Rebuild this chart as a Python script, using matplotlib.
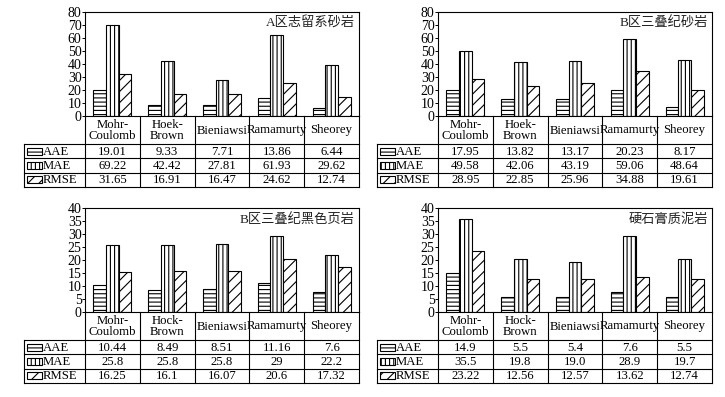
import numpy as np
import matplotlib.pyplot as plt
from matplotlib.patches import Rectangle

plt.rcParams['font.family'] = ['Liberation Serif', 'Noto Sans CJK SC']
plt.rcParams['hatch.linewidth'] = 0.8

methods_top = ['Mohr-\nCoulomb', 'Hoek-\nBrown', 'Bieniawsi', 'Ramamurty', 'Sheorey']
methods_bottom = ['Mohr-\nCoulomb', 'Hock-\nBrown', 'Bieniawsi', 'Ramamurty', 'Sheorey']
metrics = ['AAE', 'MAE', 'RMSE']
hatches = ['----', '||||', '///']

titles = ['A区志留系砂岩', 'B区三叠纪砂岩', 'B区三叠纪黑色页岩', '硬石膏质泥岩']

# bar heights as drawn
a_aae = [20.2, 8.7, 8.7, 13.6, 6.4]
a_mae = [70.2, 42.5, 27.4, 62.5, 39.4]
a_rmse = [32.0, 17.2, 17.2, 25.3, 14.9]

b_aae = [20.2, 13.3, 12.8, 19.7, 7.2]
b_mae = [50.2, 41.8, 42.5, 59.2, 43.3]
b_rmse = [28.7, 23.3, 25.6, 34.9, 19.7]

c_aae = [10.5, 8.5, 8.8, 11.2, 7.7]
c_mae = [25.8, 25.8, 26.2, 29.2, 21.9]
c_rmse = [15.4, 15.8, 15.8, 20.4, 17.3]

d_aae = [15.0, 5.8, 5.8, 7.7, 5.8]
d_mae = [35.8, 20.4, 19.2, 29.2, 20.4]
d_rmse = [23.5, 12.7, 12.7, 13.5, 12.7]

# table texts
a_table = [['19.01', '9.33', '7.71', '13.86', '6.44'],
           ['69.22', '42.42', '27.81', '61.93', '29.62'],
           ['31.65', '16.91', '16.47', '24.62', '12.74']]
b_table = [['17.95', '13.82', '13.17', '20.23', '8.17'],
           ['49.58', '42.06', '43.19', '59.06', '48.64'],
           ['28.95', '22.85', '25.96', '34.88', '19.61']]
c_table = [['10.44', '8.49', '8.51', '11.16', '7.6'],
           ['25.8', '25.8', '25.8', '29', '22.2'],
           ['16.25', '16.1', '16.07', '20.6', '17.32']]
d_table = [['14.9', '5.5', '5.4', '7.6', '5.5'],
           ['35.5', '19.8', '19.0', '28.9', '19.7'],
           ['23.22', '12.56', '12.57', '13.62', '12.74']]

W, H = 725, 397
fig = plt.figure(figsize=(W / 100, H / 100), dpi=100)
FS = 9.2


def px_rect(left, top, width, height):
    return [left / W, 1 - (top + height) / H, width / W, height / H]


def draw_panel(lab_left, ax_left, ax_right, top, ymax, step, title, methods, bars, table):
    ax_h = 104
    ax = fig.add_axes(px_rect(ax_left, top, ax_right - ax_left, ax_h))
    x = np.arange(len(methods))
    w = 0.23
    for k, vals in enumerate(bars):
        ax.bar(x + (k - 1) * w, vals, w, color='white', edgecolor='black',
               hatch=hatches[k], linewidth=0.8)
    ax.set_xlim(-0.5, len(methods) - 0.5)
    ax.set_ylim(0, ymax)
    ax.set_yticks(np.arange(0, ymax + 1, step))
    ax.tick_params(axis='x', bottom=False, labelbottom=False)
    ax.tick_params(axis='y', direction='out', length=2, width=0.7, labelsize=10, pad=0.5)
    for s in ax.spines.values():
        s.set_linewidth(0.8)
    ax.text(0.985, 0.89, title, transform=ax.transAxes, ha='right', va='center',
            fontsize=9.5, fontweight='light', color='#222222')

    # table below
    tab_h = 71
    y0 = top + ax_h
    y1 = y0 + 28
    rows = np.linspace(y1, y0 + tab_h, 4)
    tax = fig.add_axes(px_rect(lab_left, y0, ax_right - lab_left, tab_h))
    tax.set_xlim(lab_left, ax_right)
    tax.set_ylim(y0 + tab_h, y0)
    tax.axis('off')
    colw = (ax_right - ax_left) / len(methods)
    kw = dict(color='black', lw=0.8, clip_on=False)
    for i in range(len(methods) + 1):
        tax.plot([ax_left + i * colw] * 2, [y0, y0 + tab_h], **kw)
    tax.plot([lab_left, lab_left], [y1, y0 + tab_h], **kw)
    for yy in rows:
        tax.plot([lab_left, ax_right], [yy, yy], **kw)
    for i, m in enumerate(methods):
        tax.text(ax_left + (i + 0.5) * colw, (y0 + y1) / 2 + 0.5, m, ha='center', va='center',
                 fontsize=FS, linespacing=0.95)
    for r, name in enumerate(metrics):
        yc = (rows[r] + rows[r + 1]) / 2
        tax.add_patch(Rectangle((lab_left + 3, yc - 3.5), 15, 7, facecolor='white',
                                edgecolor='black', hatch=hatches[r], lw=0.8, clip_on=False))
        tax.text(lab_left + 19, yc + 0.5, name, ha='left', va='center', fontsize=FS)
        for i, v in enumerate(table[r]):
            tax.text(ax_left + (i + 0.5) * colw, yc + 0.5, v, ha='center', va='center', fontsize=FS)


draw_panel(24, 85, 359, 12, 80, 10, titles[0], methods_top, [a_aae, a_mae, a_rmse], a_table)
draw_panel(377, 438, 712, 12, 80, 10, titles[1], methods_top, [b_aae, b_mae, b_rmse], b_table)
draw_panel(24, 85, 359, 208, 40, 5, titles[2], methods_bottom, [c_aae, c_mae, c_rmse], c_table)
draw_panel(377, 438, 712, 208, 40, 5, titles[3], methods_bottom, [d_aae, d_mae, d_rmse], d_table)

fig.savefig('out.png', dpi=100)
